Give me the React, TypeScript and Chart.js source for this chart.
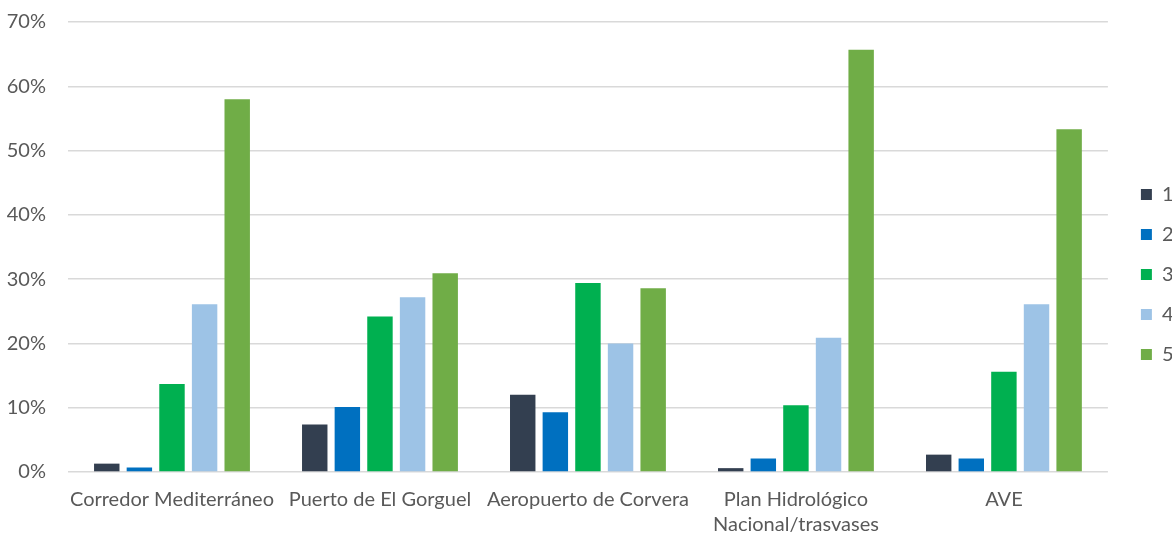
import { useEffect, useRef } from 'react';
import { Chart, registerables } from 'chart.js';

Chart.register(...registerables);

const categories: (string | string[])[] = [
  'Corredor Mediterráneo',
  'Puerto de El Gorguel',
  'Aeropuerto de Corvera',
  ['Plan Hidrológico', 'Nacional/trasvases'],
  'AVE',
];

const seriesNames = ['1', '2', '3', '4', '5'];

const series1 = [1.3, 7.4, 12.0, 0.6, 2.7];
const series2 = [0.7, 10.1, 9.3, 2.1, 2.1];
const series3 = [13.7, 24.2, 29.4, 10.4, 15.6];
const series4 = [26.1, 27.2, 20.0, 20.9, 26.1];
const series5 = [58.0, 30.9, 28.6, 65.7, 53.3];

const seriesColors = ['#333F50', '#0070C0', '#00B050', '#9DC3E6', '#70AD47'];

const yMin = 0;
const yMax = 70;
const yStep = 10;

const FONT = 'Lato';
const TEXT = '#595959';

export default function App() {
  const ref = useRef<HTMLCanvasElement>(null);

  useEffect(() => {
    const allSeries = [series1, series2, series3, series4, series5];
    const chart = new Chart(ref.current!, {
      type: 'bar',
      data: {
        labels: categories,
        datasets: allSeries.map((data, i) => ({
          label: seriesNames[i],
          data,
          backgroundColor: seriesColors[i],
          borderWidth: 0,
          categoryPercentage: 0.784,
          barPercentage: 0.78,
        })),
      },
      options: {
        animation: false,
        responsive: true,
        maintainAspectRatio: false,
        layout: { padding: { top: 22, right: -11.5, bottom: 0, left: 0 } },
        plugins: {
          tooltip: { enabled: false },
          legend: {
            position: 'right',
            align: 'start',
            title: {
              display: true,
              text: '',
              padding: { top: 132.5, bottom: 0 },
              font: { size: 10, lineHeight: 1 },
            },
            labels: {
              boxWidth: 11,
              boxHeight: 11,
              padding: 20,
              color: TEXT,
              font: { family: FONT, size: 20 },
            },
          },
        },
        scales: {
          x: {
            grid: { display: false, drawTicks: false },
            border: { display: false },
            ticks: {
              color: TEXT,
              font: { family: FONT, size: 20, lineHeight: 1.25 },
              padding: 15,
              maxRotation: 0,
              minRotation: 0,
              autoSkip: false,
            },
            afterFit: (s: any) => {
              s.height = 73;
            },
          },
          y: {
            min: yMin,
            max: yMax,
            ticks: {
              stepSize: yStep,
              callback: (v: any) => `${v}%`,
              padding: 22,
              color: TEXT,
              font: { family: FONT, size: 20 },
            },
            grid: { color: '#D9D9D9', drawTicks: false, lineWidth: 1.4 },
            border: { display: false },
            afterFit: (s: any) => {
              s.width = 68;
              s.paddingTop = 0;
              s.paddingBottom = 0;
            },
          },
          yR: {
            type: 'linear',
            position: 'right',
            display: true,
            grid: { display: false, drawTicks: false },
            border: { display: false },
            ticks: { display: false },
            afterFit: (s: any) => {
              s.width = 13;
              s.paddingTop = 0;
              s.paddingBottom = 0;
            },
          },
        },
      } as any,
    });
    return () => chart.destroy();
  }, []);

  return (
    <div
      style={{
        position: 'absolute',
        left: 0,
        top: 0,
        width: 1172,
        height: 533,
        overflow: 'hidden',
        background: '#fff',
      }}
    >
      <div style={{ position: 'relative', width: 1172, height: 545 }}>
        <canvas ref={ref} />
      </div>
    </div>
  );
}
